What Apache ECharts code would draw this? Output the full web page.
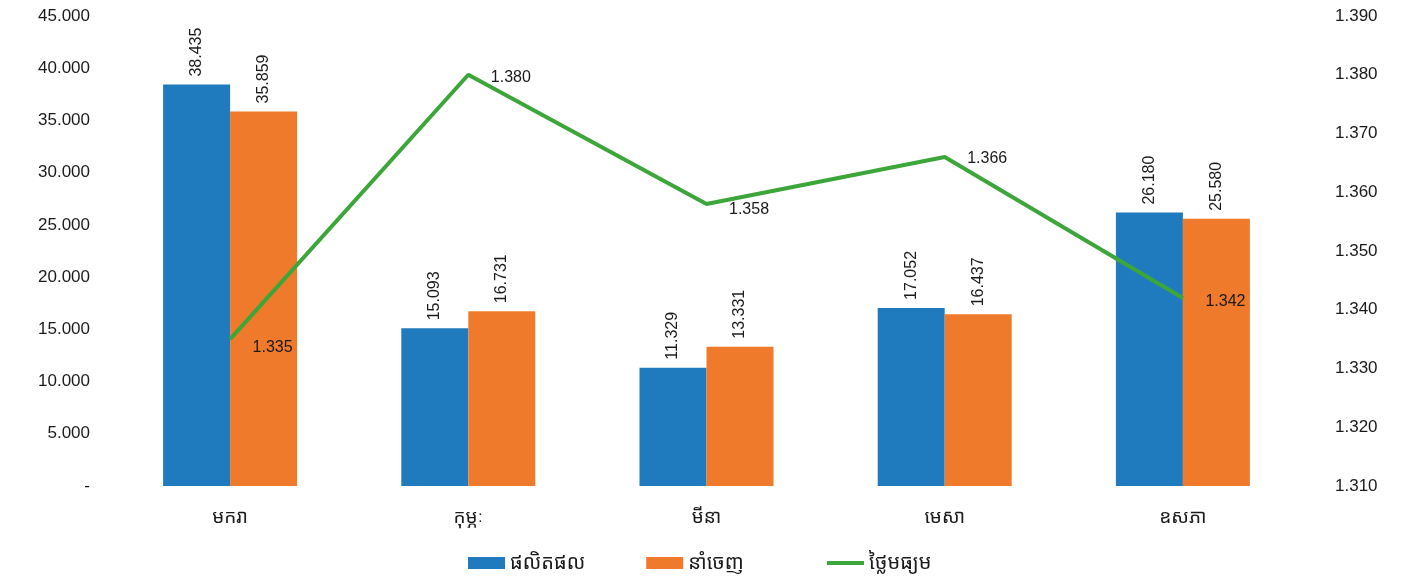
<!DOCTYPE html>
<html>
<head>
    <meta charset="utf-8">
    <title>ECharts</title>
    <script src="https://cdn.jsdelivr.net/npm/echarts@6/dist/echarts.min.js"></script>
</head>
<body style="margin:0;background:#fff;">
<div id="main" style="width:1401px;height:584px;"></div>
<script type="text/javascript">
    // ខែ
    var months = ['មករា', 'កុម្ភៈ', 'មីនា', 'មេសា', 'ឧសភា'];
    // ផលិតផល / នាំចេញ (ពាន់)
    var production = [38.435, 15.093, 11.329, 17.052, 26.180];
    var exports = [35.859, 16.731, 13.331, 16.437, 25.580];
    // ថ្លៃមធ្យម
    var avgPrice = [1.335, 1.380, 1.358, 1.366, 1.342];
    var priceLabelOffset = [[0, 8], [0, 3], [0, 6], [0, 2], [0, 4]];

    var txt = '#1a1a1a';
    var fam = 'Arial, "Liberation Sans", "Noto Sans Khmer", sans-serif';
    var legendText = {fontSize: 20, color: txt, fontFamily: fam};

    var myChart = echarts.init(document.getElementById('main'));
    var option = {
        animation: false,
        grid: {left: 111, right: 99, top: 16, bottom: 98},
        legend: [{
            bottom: 6,
            left: 463,
            itemWidth: 37,
            itemHeight: 12,
            itemGap: 61,
            textStyle: legendText,
            data: [
                {name: 'ផលិតផល', icon: 'rect'},
                {name: 'នាំចេញ', icon: 'rect'}
            ]
        }, {
            bottom: 6,
            left: 822,
            itemWidth: 37,
            itemHeight: 12,
            textStyle: legendText,
            data: [{name: 'ថ្លៃមធ្យម', icon: 'path://M0,0 L37,0 L37,4 L0,4 Z'}]
        }],
        xAxis: {
            type: 'category',
            data: months,
            axisLine: {show: false},
            axisTick: {show: false},
            axisLabel: {fontSize: 19, color: txt, margin: 22, fontFamily: fam}
        },
        yAxis: [{
            type: 'value',
            min: 0, max: 45, interval: 5,
            splitLine: {show: false},
            axisLabel: {
                fontSize: 17, color: txt, margin: 21, fontFamily: fam,
                formatter: function (v) { return v === 0 ? '-' : v.toFixed(3); }
            }
        }, {
            type: 'value',
            min: 1.31, max: 1.39, interval: 0.01,
            splitLine: {show: false},
            axisLabel: {
                fontSize: 17, color: txt, margin: 33, fontFamily: fam,
                formatter: function (v) { return v.toFixed(3); }
            }
        }],
        series: [{
            name: 'ផលិតផល',
            type: 'bar',
            data: production,
            barWidth: 67,
            barGap: '0%',
            itemStyle: {color: '#1f7bbd'},
            label: {
                show: true, position: 'top', rotate: 90, align: 'left', verticalAlign: 'middle',
                distance: 8, fontSize: 16, color: txt, fontFamily: fam,
                formatter: function (p) { return p.value.toFixed(3); }
            }
        }, {
            name: 'នាំចេញ',
            type: 'bar',
            data: exports,
            barWidth: 67,
            itemStyle: {color: '#ef7a2b'},
            label: {
                show: true, position: 'top', rotate: 90, align: 'left', verticalAlign: 'middle',
                distance: 8, fontSize: 16, color: txt, fontFamily: fam,
                formatter: function (p) { return p.value.toFixed(3); }
            }
        }, {
            name: 'ថ្លៃមធ្យម',
            type: 'line',
            yAxisIndex: 1,
            data: avgPrice.map(function (v, i) {
                return {value: v, label: {offset: priceLabelOffset[i]}};
            }),
            symbol: 'circle',
            symbolSize: 1,
            lineStyle: {width: 4, color: '#3da63a'},
            itemStyle: {color: '#3da63a'},
            label: {
                show: true, position: 'right', distance: 22, fontSize: 16, color: txt, fontFamily: fam,
                formatter: function (p) { return p.value.toFixed(3); }
            }
        }]
    };
    myChart.setOption(option);
</script>
</body>
</html>
